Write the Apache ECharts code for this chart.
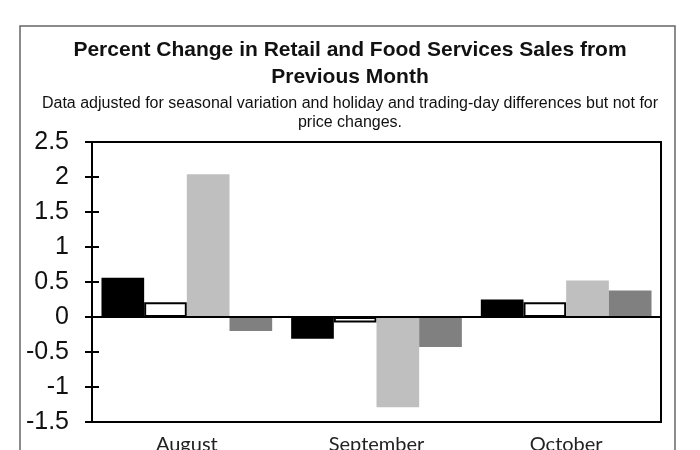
<!DOCTYPE html>
<html>
<head>
<meta charset="utf-8">
<script src="https://cdn.jsdelivr.net/npm/echarts@6/dist/echarts.min.js"></script>
<style>html,body{margin:0;padding:0;background:#fff;}#c{width:700px;height:450px;}</style>
</head>
<body>
<div id="c"></div>
<script>
const categories = ['August', 'September', 'October'];
const seriesA = [0.56, -0.31, 0.25];
const seriesB = [0.21, -0.08, 0.21];
const seriesC = [2.04, -1.29, 0.52];
const seriesD = [-0.2, -0.43, 0.38];
const yMin = -1.5, yMax = 2.5, yStep = 0.5;

const chart = echarts.init(document.getElementById('c'), null, {renderer: 'canvas'});
const barBase = {type: 'bar', barGap: '0%', barCategoryGap: '10%'};
chart.setOption({
  animation: false,
  backgroundColor: '#fff',
  title: [
    {text: 'Percent Change in Retail and Food Services Sales from\nPrevious Month', left: 'center', top: 32,
     textStyle: {fontFamily: 'Liberation Sans', fontSize: 21, fontWeight: 'bold', color: '#111', lineHeight: 27}},
    {text: 'Data adjusted for seasonal variation and holiday and trading-day differences but not for\nprice changes.', left: 'center', top: 89,
     textStyle: {fontFamily: 'Liberation Sans', fontSize: 16, fontWeight: 'normal', color: '#111', lineHeight: 19}}
  ],
  graphic: [
    {type: 'rect', shape: {x: 20, y: 26, width: 655, height: 440}, style: {fill: 'none', stroke: '#666', lineWidth: 1.5}, silent: true}
  ],
  grid: {left: 92, top: 142, right: 39, bottom: 28, outerBoundsMode: 'none', containLabel: false,
    show: true, borderColor: '#000', borderWidth: 2, backgroundColor: 'transparent'},
  xAxis: {type: 'category', data: categories,
    axisLine: {show: false, onZero: false}, axisTick: {show: false},
    axisLabel: {fontFamily: 'Lato', fontSize: 20, color: '#222', margin: 13}},
  yAxis: [
    {type: 'value', min: yMin, max: yMax, interval: yStep, splitLine: {show: false},
     axisLine: {show: true, lineStyle: {color: '#000', width: 2}},
     axisTick: {show: true, length: 7, lineStyle: {color: '#000', width: 2}},
     axisLabel: {fontFamily: 'Liberation Sans', fontSize: 25, color: '#111', margin: 23}},
    {type: 'value', min: yMin, max: yMax, interval: yStep, position: 'left', splitLine: {show: false},
     axisLine: {show: false}, axisLabel: {show: false},
     axisTick: {show: true, inside: true, length: 7, lineStyle: {color: '#000', width: 2}}}
  ],
  series: [
    Object.assign({}, barBase, {name: 'A', data: seriesA, itemStyle: {color: '#000'},
      markLine: {silent: true, symbol: 'none', label: {show: false}, lineStyle: {color: '#000', width: 2, type: 'solid'}, data: [{yAxis: 0}]}}),
    Object.assign({}, barBase, {name: 'B', data: seriesB, itemStyle: {color: '#fff', borderColor: '#000', borderWidth: 2}}),
    Object.assign({}, barBase, {name: 'C', data: seriesC, itemStyle: {color: '#bfbfbf'}}),
    Object.assign({}, barBase, {name: 'D', data: seriesD, itemStyle: {color: '#808080'}})
  ]
});
</script>
</body>
</html>
